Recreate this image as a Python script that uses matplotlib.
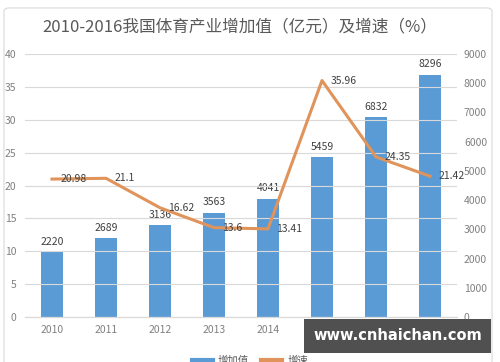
import matplotlib.pyplot as plt
from matplotlib.lines import Line2D
from matplotlib.patches import Rectangle, FancyBboxPatch

plt.rcParams['font.family'] = ['Noto Sans CJK SC', 'DejaVu Sans']

# data
years = ['2010', '2011', '2012', '2013', '2014', '2015', '2016', '2017']
value_added = [2220, 2689, 3136, 3563, 4041, 5459, 6832, 8296]   # 亿元
growth = [20.98, 21.1, 16.62, 13.6, 13.41, 35.96, 24.35, 21.42]   # %

bar_color = '#5b9bd5'
line_color = '#e0935a'
text_gray = '#595959'
tick_gray = '#808080'

fig = plt.figure(figsize=(5.0, 3.62), dpi=100)

# chart border
fig.patches.append(FancyBboxPatch((0.008, -0.05), 0.976, 1.028, boxstyle='round,pad=0,rounding_size=0.01',
                                  transform=fig.transFigure, fill=False, edgecolor='#d9d9d9', lw=0.8))

ax = fig.add_axes([0.05, 0.124, 0.864, 0.727])
ax2 = ax.twinx()

x = list(range(len(years)))

# bars on the right axis
ax2.bar(x, value_added, width=0.39, color=bar_color, zorder=2)
for xi, v in zip(x, value_added):
    ax2.annotate(str(v), (xi, v), xytext=(0, 4), textcoords='offset points',
                 ha='center', va='bottom', fontsize=7.5, color='#404040')

# growth line on the left axis (drawn above bars)
ax.set_zorder(ax2.get_zorder() + 1)
ax.patch.set_visible(False)
ax.plot(x, growth, color=line_color, lw=2.2, zorder=3)
for xi, g in zip(x, growth):
    ax.annotate(f'{g:g}', (xi, g), xytext=(6, 0), textcoords='offset points',
                ha='left', va='center', fontsize=7.5, color='#404040')

ax.set_xlim(-0.5, 7.5)
ax.set_ylim(0, 40)
ax.set_yticks(range(0, 41, 5))
ax2.set_ylim(0, 9000)
ax2.set_yticks(range(0, 9001, 1000))
ax.set_xticks(x)
ax.set_xticklabels(years)

ax.grid(axis='y', color='#d9d9d9', lw=0.8, zorder=0)
ax.set_axisbelow(True)
for a in (ax, ax2):
    for s in ('top', 'left', 'right'):
        a.spines[s].set_visible(False)
    a.spines['bottom'].set_color('#d9d9d9')
    a.tick_params(length=0, labelsize=7.5, labelcolor=tick_gray)
ax.tick_params(axis='x', pad=6)
ax.tick_params(axis='y', pad=6)
ax2.tick_params(axis='y', pad=5)

fig.text(0.48, 0.925, '2010-2016我国体育产业增加值（亿元）及增速（%）',
         ha='center', va='center', fontsize=12, color=text_gray)

# legend (cut by the bottom edge, as in the source image)
handles = [Line2D([0], [0], color=bar_color, lw=3),
           Line2D([0], [0], color=line_color, lw=3)]
fig.legend(handles, ['增加值', '增速'], loc='center', bbox_to_anchor=(0.5, 0.005),
           ncol=2, frameon=False, fontsize=7.5, labelcolor=text_gray,
           handlelength=2.0, handletextpad=0.5, columnspacing=1.2)

# watermark
fig.patches.append(Rectangle((0.608, 0.025), 0.374, 0.094, transform=fig.transFigure,
                             facecolor='#505050', edgecolor='none', zorder=10))
fig.text(0.795, 0.072, 'www.cnhaichan.com', ha='center', va='center',
         fontsize=10.5, fontweight='bold', color='white', family='DejaVu Sans', zorder=11)

fig.savefig('out.png', dpi=100)
